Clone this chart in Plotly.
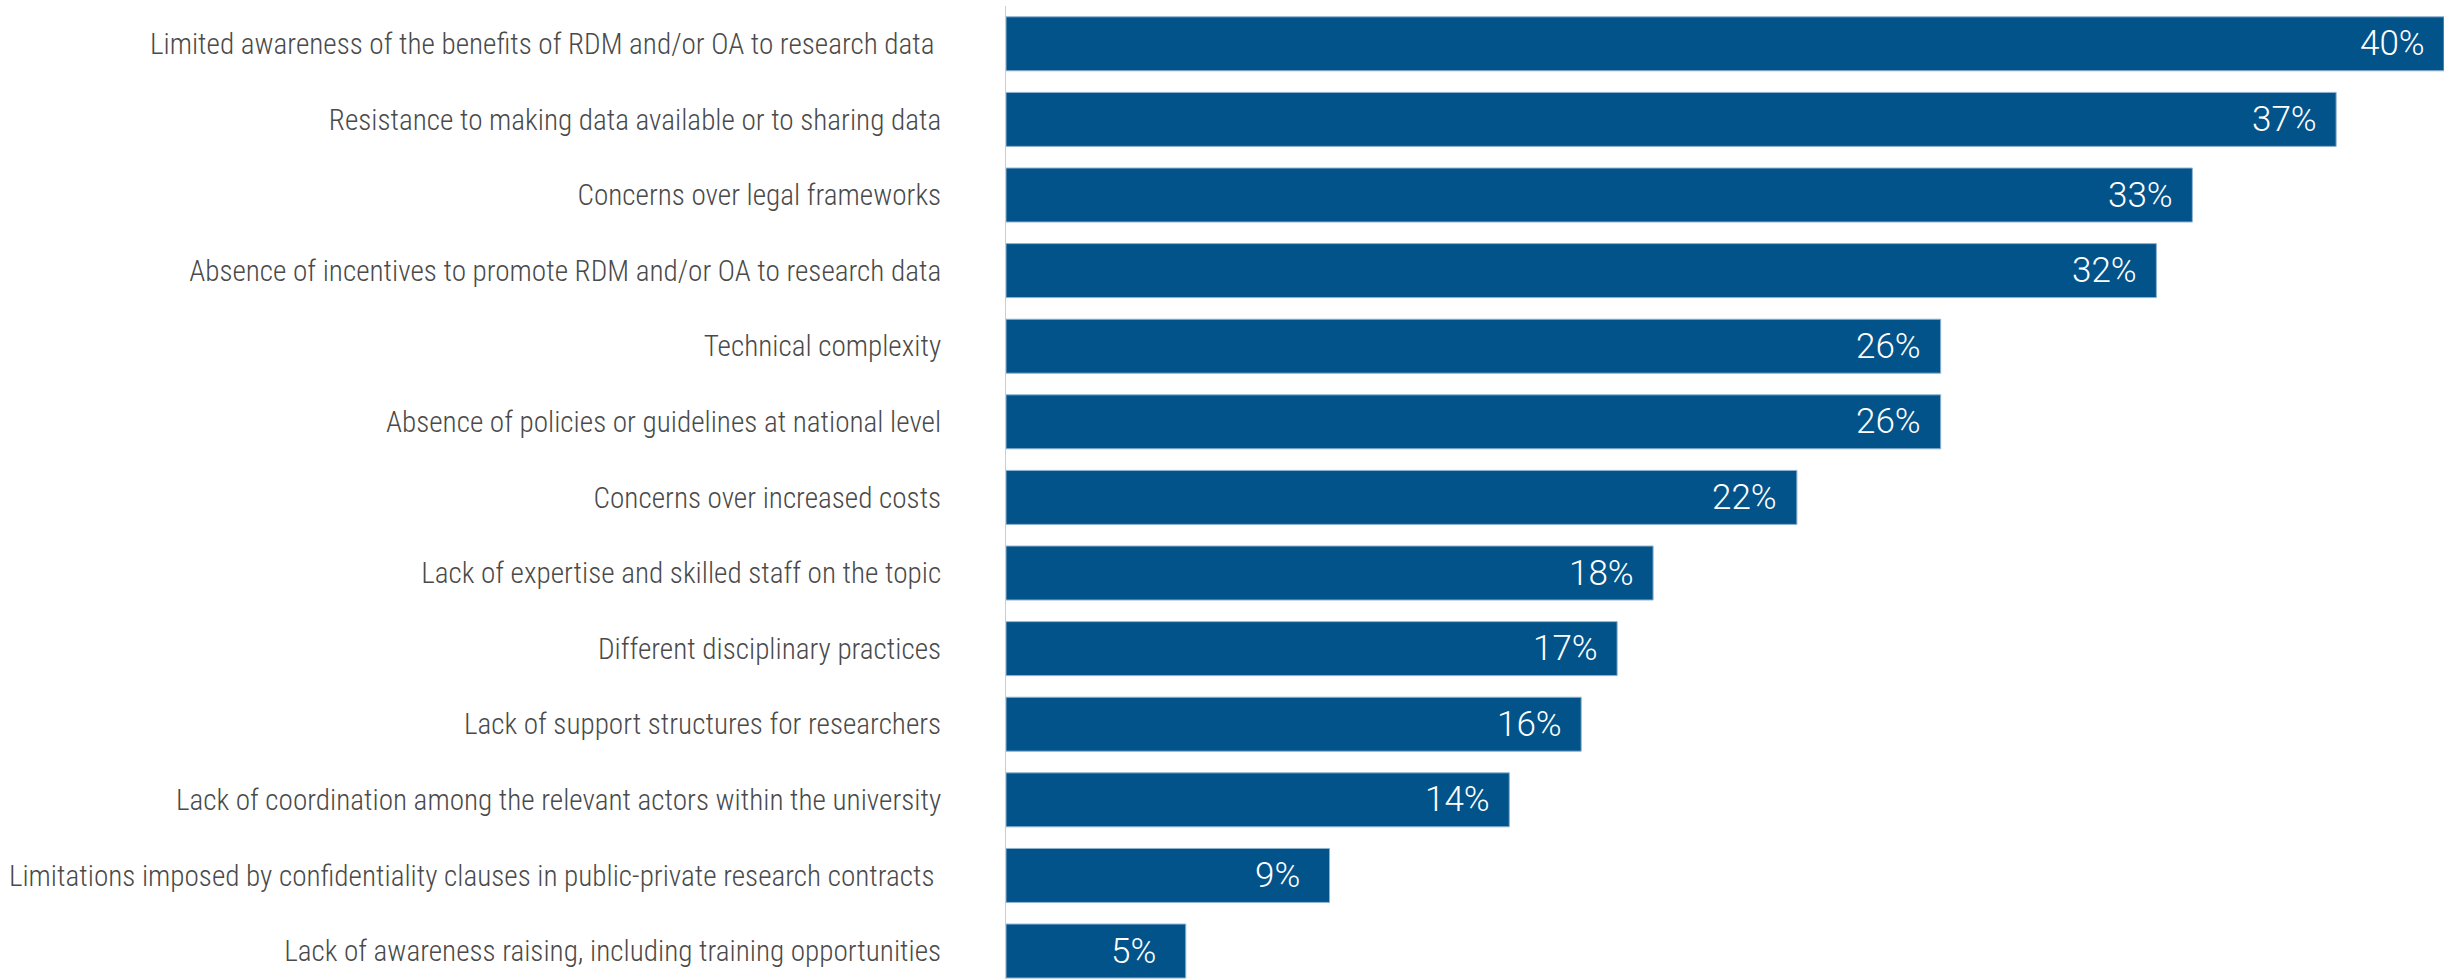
import plotly.graph_objects as go

# Barriers to RDM / open access to research data (share of respondents, %)
categories = [
    "Limited awareness of the benefits of RDM and/or OA to research data\u00a0",
    "Resistance to making data available or to sharing data",
    "Concerns over legal frameworks",
    "Absence of incentives to promote RDM and/or OA to research data",
    "Technical complexity",
    "Absence of policies or guidelines at national level",
    "Concerns over increased costs",
    "Lack of expertise and skilled staff on the topic",
    "Different disciplinary practices",
    "Lack of support structures for researchers",
    "Lack of coordination among the relevant actors within the university",
    "Limitations imposed by confidentiality clauses in public-private research contracts\u00a0",
    "Lack of awareness raising, including training opportunities",
]
values = [40, 37, 33, 32, 26, 26, 22, 18, 17, 16, 14, 9, 5]

BAR_COLOR = "#01538a"
EDGE_COLOR = "#8fb3d1"
FONT = "Roboto Condensed, Liberation Sans Narrow, Roboto, sans-serif"
VALUE_FONT = "Roboto, Roboto Condensed, sans-serif"

fig = go.Figure(
    go.Bar(
        x=values,
        y=categories,
        orientation="h",
        marker=dict(color=BAR_COLOR, line=dict(color=EDGE_COLOR, width=1)),
        hoverinfo="skip",
    )
)

# value labels centred a fixed distance inside the end of each bar
for cat, val in zip(categories, values):
    fig.add_annotation(
        x=val, y=cat, text=f"{val}%", showarrow=False,
        xanchor="center", xshift=-52,
        font=dict(family=VALUE_FONT, size=35, color="white", weight=300),
    )

fig.update_layout(
    width=2458, height=979,
    margin=dict(l=1006, r=14, t=6, b=0),
    paper_bgcolor="white", plot_bgcolor="white",
    bargap=0.286,
    showlegend=False,
    font=dict(family=FONT, size=29.2, color="#4a4a4a", weight=300),
)
fig.update_xaxes(range=[0, 40], visible=False, fixedrange=True)
fig.update_yaxes(
    range=[12.37, -0.5],
    showline=True, linecolor="#cccccc", linewidth=1,
    showgrid=False, ticks="", ticklabelstandoff=58,
    tickfont=dict(family=FONT, size=29.2, color="#4a4a4a", weight=300),
    fixedrange=True,
)

fig.write_html("out.html")
